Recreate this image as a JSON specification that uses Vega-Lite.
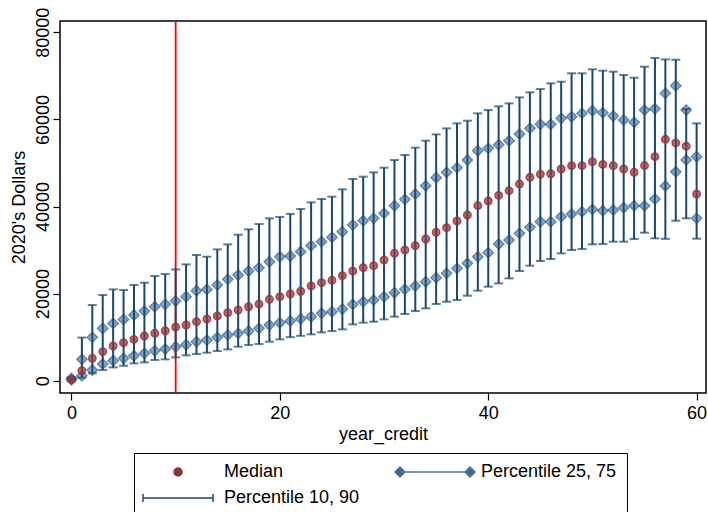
{
  "$schema": "https://vega.github.io/schema/vega-lite/v6.json",
  "width": 646,
  "height": 372,
  "autosize": {"type": "none"},
  "padding": {"left": 60, "top": 21, "right": 2, "bottom": 119},
  "background": "white",
  "data": {"values": [
    {"year_credit": 0, "p10": 0, "p25": 200, "median": 300, "p75": 500, "p90": 800},
    {"year_credit": 1, "p10": 700, "p25": 1150, "median": 2300, "p75": 4900, "p90": 9900},
    {"year_credit": 2, "p10": 1700, "p25": 2450, "median": 5130, "p75": 9950, "p90": 17370},
    {"year_credit": 3, "p10": 2450, "p25": 3830, "median": 6660, "p75": 12000, "p90": 19670},
    {"year_credit": 4, "p10": 3060, "p25": 4590, "median": 7960, "p75": 13160, "p90": 20970},
    {"year_credit": 5, "p10": 3440, "p25": 5130, "median": 8730, "p75": 14080, "p90": 20820},
    {"year_credit": 6, "p10": 3980, "p25": 5740, "median": 9490, "p75": 15080, "p90": 21970},
    {"year_credit": 7, "p10": 4210, "p25": 6280, "median": 10260, "p75": 16000, "p90": 22500},
    {"year_credit": 8, "p10": 4750, "p25": 6890, "median": 10870, "p75": 16990, "p90": 24030},
    {"year_credit": 9, "p10": 4900, "p25": 7270, "median": 11480, "p75": 17530, "p90": 24490},
    {"year_credit": 10, "p10": 5360, "p25": 7810, "median": 12320, "p75": 18290, "p90": 25560},
    {"year_credit": 11, "p10": 5820, "p25": 8270, "median": 12780, "p75": 19290, "p90": 26710},
    {"year_credit": 12, "p10": 6120, "p25": 8960, "median": 13550, "p75": 20670, "p90": 28860},
    {"year_credit": 13, "p10": 6430, "p25": 9340, "median": 14160, "p75": 20970, "p90": 28470},
    {"year_credit": 14, "p10": 6810, "p25": 9950, "median": 14850, "p75": 21970, "p90": 30160},
    {"year_credit": 15, "p10": 7190, "p25": 10490, "median": 15610, "p75": 23270, "p90": 31300},
    {"year_credit": 16, "p10": 7810, "p25": 10870, "median": 16230, "p75": 24260, "p90": 33520},
    {"year_credit": 17, "p10": 8190, "p25": 11400, "median": 16990, "p75": 25180, "p90": 34750},
    {"year_credit": 18, "p10": 8420, "p25": 12020, "median": 17600, "p75": 25950, "p90": 35970},
    {"year_credit": 19, "p10": 8960, "p25": 12780, "median": 18680, "p75": 27320, "p90": 37280},
    {"year_credit": 20, "p10": 9490, "p25": 13320, "median": 19290, "p75": 28470, "p90": 37600},
    {"year_credit": 21, "p10": 10000, "p25": 13700, "median": 19900, "p75": 28630, "p90": 38300},
    {"year_credit": 22, "p10": 10300, "p25": 14200, "median": 20550, "p75": 29630, "p90": 39420},
    {"year_credit": 23, "p10": 10640, "p25": 14700, "median": 21750, "p75": 31010, "p90": 40950},
    {"year_credit": 24, "p10": 11100, "p25": 15470, "median": 22510, "p75": 31930, "p90": 41720},
    {"year_credit": 25, "p10": 11400, "p25": 15850, "median": 23050, "p75": 32920, "p90": 42250},
    {"year_credit": 26, "p10": 11790, "p25": 16460, "median": 24120, "p75": 34220, "p90": 43940},
    {"year_credit": 27, "p10": 12940, "p25": 17530, "median": 25190, "p75": 35750, "p90": 46310},
    {"year_credit": 28, "p10": 13320, "p25": 18140, "median": 25960, "p75": 36750, "p90": 46850},
    {"year_credit": 29, "p10": 13550, "p25": 18530, "median": 26420, "p75": 37280, "p90": 47840},
    {"year_credit": 30, "p10": 14080, "p25": 19290, "median": 27710, "p75": 38430, "p90": 48910},
    {"year_credit": 31, "p10": 14700, "p25": 20210, "median": 29250, "p75": 40190, "p90": 50670},
    {"year_credit": 32, "p10": 15310, "p25": 20980, "median": 30010, "p75": 41640, "p90": 51820},
    {"year_credit": 33, "p10": 16000, "p25": 21750, "median": 31010, "p75": 42870, "p90": 53500},
    {"year_credit": 34, "p10": 16610, "p25": 22740, "median": 32540, "p75": 44780, "p90": 55110},
    {"year_credit": 35, "p10": 17600, "p25": 23660, "median": 34070, "p75": 46620, "p90": 56560},
    {"year_credit": 36, "p10": 18140, "p25": 24660, "median": 35140, "p75": 47840, "p90": 57940},
    {"year_credit": 37, "p10": 18530, "p25": 25800, "median": 36670, "p75": 48920, "p90": 59090},
    {"year_credit": 38, "p10": 19520, "p25": 26950, "median": 38050, "p75": 50680, "p90": 59700},
    {"year_credit": 39, "p10": 20670, "p25": 28480, "median": 40190, "p75": 52820, "p90": 61390},
    {"year_credit": 40, "p10": 21590, "p25": 29400, "median": 41260, "p75": 53350, "p90": 62150},
    {"year_credit": 41, "p10": 22350, "p25": 31380, "median": 42550, "p75": 54160, "p90": 63000},
    {"year_credit": 42, "p10": 23500, "p25": 32310, "median": 43630, "p75": 55110, "p90": 63680},
    {"year_credit": 43, "p10": 25180, "p25": 33830, "median": 45160, "p75": 56640, "p90": 65060},
    {"year_credit": 44, "p10": 26410, "p25": 35210, "median": 46690, "p75": 57950, "p90": 66210},
    {"year_credit": 45, "p10": 27480, "p25": 36510, "median": 47380, "p75": 58860, "p90": 66970},
    {"year_credit": 46, "p10": 27940, "p25": 36510, "median": 47530, "p75": 58860, "p90": 68280},
    {"year_credit": 47, "p10": 29240, "p25": 37660, "median": 48600, "p75": 60240, "p90": 68660},
    {"year_credit": 48, "p10": 30010, "p25": 38270, "median": 49370, "p75": 60620, "p90": 70580},
    {"year_credit": 49, "p10": 30230, "p25": 38810, "median": 49370, "p75": 61390, "p90": 70580},
    {"year_credit": 50, "p10": 31310, "p25": 39340, "median": 50290, "p75": 62000, "p90": 71490},
    {"year_credit": 51, "p10": 31380, "p25": 39030, "median": 49670, "p75": 61540, "p90": 71190},
    {"year_credit": 52, "p10": 31920, "p25": 39190, "median": 49370, "p75": 60770, "p90": 70960},
    {"year_credit": 53, "p10": 31920, "p25": 39720, "median": 48600, "p75": 59860, "p90": 70200},
    {"year_credit": 54, "p10": 32530, "p25": 40190, "median": 47840, "p75": 59320, "p90": 69580},
    {"year_credit": 55, "p10": 33990, "p25": 40150, "median": 49400, "p75": 62150, "p90": 72100},
    {"year_credit": 56, "p10": 32690, "p25": 41720, "median": 51440, "p75": 62450, "p90": 74100},
    {"year_credit": 57, "p10": 32570, "p25": 44700, "median": 55420, "p75": 65980, "p90": 73790},
    {"year_credit": 58, "p10": 36740, "p25": 47990, "median": 54600, "p75": 67740, "p90": 73700},
    {"year_credit": 59, "p10": 37280, "p25": 50680, "median": 53850, "p75": 62150, "p90": 62400},
    {"year_credit": 60, "p10": 32610, "p25": 37280, "median": 42870, "p75": 51440, "p90": 59090}
  ]},
  "encoding": {
    "x": {
      "field": "year_credit", "type": "quantitative",
      "scale": {"domain": [-1.1, 60.9], "nice": false, "zero": false},
      "axis": {"values": [0, 20, 40, 60], "title": "year_credit", "labelPadding": 4, "titlePadding": 3}
    }
  },
  "layer": [
    {
      "transform": [{"filter": "datum.year_credit === 10"}],
      "mark": {"type": "rule", "color": "#ff0000", "strokeWidth": 1.8},
      "encoding": {}
    },
    {
      "mark": {"type": "rule", "color": "#1a476f", "strokeWidth": 2},
      "encoding": {
        "y": {
          "field": "p10", "type": "quantitative",
          "scale": {"domain": [-2824, 82595], "nice": false, "zero": false},
          "axis": {"values": [0, 20000, 40000, 60000, 80000], "format": "d", "title": "2020's Dollars", "labelAngle": 270, "labelAlign": "center", "labelBaseline": "alphabetic", "labelPadding": 5, "titlePadding": 6}
        },
        "y2": {"field": "p90"}
      }
    },
    {
      "mark": {"type": "tick", "orient": "horizontal", "color": "#1a476f", "size": 9, "thickness": 2},
      "encoding": {"y": {"field": "p10", "type": "quantitative"}}
    },
    {
      "mark": {"type": "tick", "orient": "horizontal", "color": "#1a476f", "size": 9, "thickness": 2},
      "encoding": {"y": {"field": "p90", "type": "quantitative"}}
    },
    {
      "mark": {"type": "point", "shape": "diamond", "size": 115, "filled": true, "fill": "#1a4f80", "fillOpacity": 0.52, "stroke": "#1a476f", "strokeOpacity": 0.55, "strokeWidth": 1.2},
      "encoding": {"y": {"field": "p25", "type": "quantitative"}}
    },
    {
      "mark": {"type": "point", "shape": "diamond", "size": 115, "filled": true, "fill": "#1a4f80", "fillOpacity": 0.52, "stroke": "#1a476f", "strokeOpacity": 0.55, "strokeWidth": 1.2},
      "encoding": {"y": {"field": "p75", "type": "quantitative"}}
    },
    {
      "mark": {"type": "point", "size": 56, "filled": true, "fillOpacity": 0.72, "strokeOpacity": 0.8, "strokeWidth": 1.5},
      "encoding": {
        "y": {"field": "median", "type": "quantitative"},
        "shape": {
          "datum": "Median",
          "type": "nominal",
          "scale": {
            "domain": ["Median", "Percentile 25, 75", "Percentile 10, 90"],
            "range": [
              "circle",
              "M-8.75,0L8.75,0M-10,0L-8.75,-1.25L-7.5,0L-8.75,1.25ZM7.5,0L8.75,-1.25L10,0L8.75,1.25Z",
              "M-8.75,0L8.75,0M-8.75,-1L-8.75,1M8.75,-1L8.75,1"
            ]
          },
          "legend": {
            "title": null,
            "orient": "none",
            "legendX": 74,
            "legendY": 432,
            "columns": 2,
            "direction": "horizontal",
            "padding": 10,
            "strokeColor": "#000000",
            "fillColor": "#ffffff",
            "symbolSize": 64,
            "symbolOffset": 25,
            "labelOffset": 37,
            "labelFont": "Liberation Sans",
            "labelFontSize": 18,
            "labelColor": "#000000",
            "labelLimit": 400,
            "rowPadding": 8,
            "columnPadding": 32
          }
        },
        "fill": {
          "datum": "Median",
          "type": "nominal",
          "scale": {"domain": ["Median", "Percentile 25, 75", "Percentile 10, 90"], "range": ["#90353b", "#3a6691", "#1a476f"]},
          "legend": null
        },
        "stroke": {
          "datum": "Median",
          "type": "nominal",
          "scale": {"domain": ["Median", "Percentile 25, 75", "Percentile 10, 90"], "range": ["#90353b", "#4f739b", "#1a476f"]},
          "legend": null
        }
      }
    }
  ],
  "config": {
    "view": {"stroke": "#000000", "strokeWidth": 1.5},
    "font": "Liberation Sans",
    "axis": {
      "domain": false,
      "grid": false,
      "tickColor": "#000000",
      "tickWidth": 1.2,
      "tickSize": 7,
      "labelFont": "Liberation Sans",
      "labelFontSize": 18,
      "labelColor": "#000000",
      "titleFont": "Liberation Sans",
      "titleFontSize": 18,
      "titleFontWeight": "normal",
      "titleColor": "#000000"
    }
  }
}
